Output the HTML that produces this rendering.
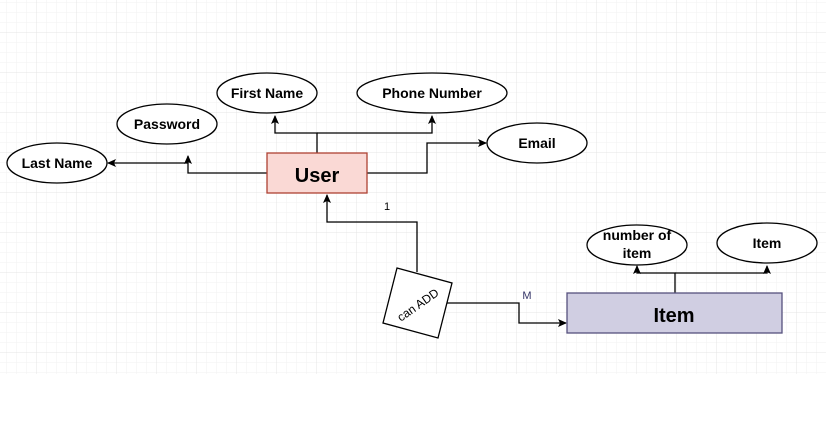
<!DOCTYPE html>
<html><head><meta charset="utf-8"><style>
body{margin:0;background:#fff}
svg text{font-family:"Liberation Sans",sans-serif;}
</style></head><body>
<svg width="831" height="440" xmlns="http://www.w3.org/2000/svg">
<defs>
<pattern id="g" width="10" height="10" patternUnits="userSpaceOnUse"><path d="M10 0V10H0" fill="none" stroke="#f2f2f2" stroke-width="1"/></pattern>
<pattern id="G" width="40" height="40" patternUnits="userSpaceOnUse" x="-3" y="-7"><rect width="40" height="40" fill="url(#g)"/><path d="M40 0V40H0" fill="none" stroke="#e4e4e4" stroke-width="1"/></pattern>
<marker id="a" markerWidth="10" markerHeight="10" refX="8" refY="4" orient="auto" markerUnits="userSpaceOnUse"><path d="M0 0L9 4L0 8L2 4Z" fill="#000"/></marker>
</defs>
<rect x="0" y="0" width="826" height="374" fill="url(#G)"/>
<g fill="none" stroke="#000" stroke-width="1.3">
<path d="M267 173H188V156" marker-end="url(#a)"/>
<path d="M188 163H108" marker-end="url(#a)"/>
<path d="M317 153V133H275V116" marker-end="url(#a)"/>
<path d="M317 133H432V116" marker-end="url(#a)"/>
<path d="M367 173H427V143H486" marker-end="url(#a)"/>
<path d="M417 272V222H327V195" marker-end="url(#a)"/>
<path d="M447 303H519V323H566" marker-end="url(#a)"/>
<path d="M675 293V273H637V266" marker-end="url(#a)"/>
<path d="M675 273H767V266" marker-end="url(#a)"/>
</g>
<g fill="#fff" stroke="#000" stroke-width="1.3">
<ellipse cx="57" cy="163" rx="50" ry="20"/>
<ellipse cx="167" cy="124" rx="50" ry="20"/>
<ellipse cx="267" cy="93" rx="50" ry="20"/>
<ellipse cx="432" cy="93" rx="75" ry="20"/>
<ellipse cx="537" cy="143" rx="50" ry="20"/>
<ellipse cx="637" cy="245" rx="50" ry="20"/>
<ellipse cx="767" cy="243" rx="50" ry="20"/>
<polygon points="397,268 452,283 438,338 383,323"/>
</g>
<rect x="267" y="153" width="100" height="40" fill="#fad9d5" stroke="#ae4132" stroke-width="1.3"/>
<rect x="567" y="293" width="215" height="40" fill="#d0cee2" stroke="#56517e" stroke-width="1.3"/>
<g font-size="14" font-weight="bold" text-anchor="middle">
<text x="57" y="168">Last Name</text>
<text x="167" y="129">Password</text>
<text x="267" y="98">First Name</text>
<text x="432" y="98">Phone Number</text>
<text x="537" y="148">Email</text>
<text x="637" y="240">number of</text>
<text x="637" y="258">item</text>
<text x="767" y="248">Item</text>
<text x="317" y="182" font-size="20">User</text>
<text x="674" y="322" font-size="20">Item</text>
</g>
<text x="418" y="309" font-size="12" text-anchor="middle" transform="rotate(-35 418 305)">can ADD</text>
<text x="387" y="210" font-size="11" text-anchor="middle">1</text>
<text x="527" y="299" font-size="11" text-anchor="middle" fill="#333366">M</text>
</svg>
</body></html>
